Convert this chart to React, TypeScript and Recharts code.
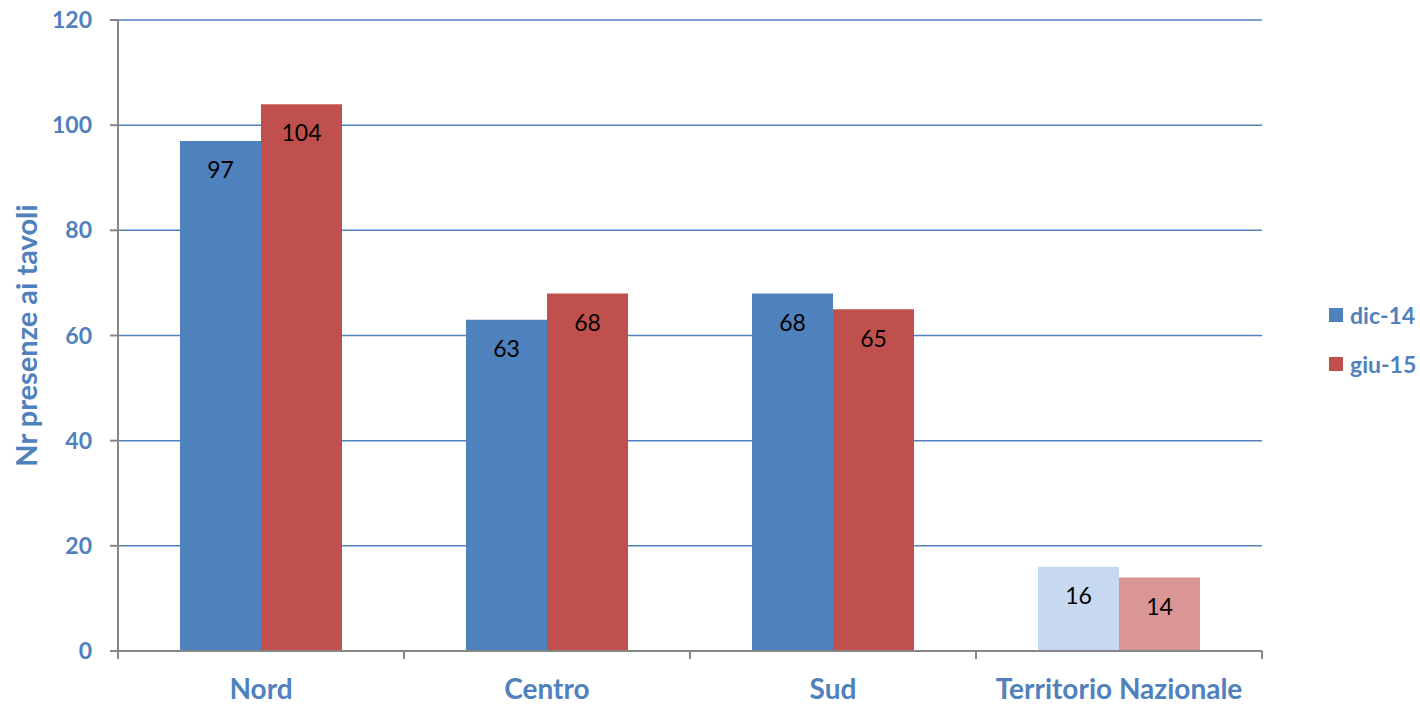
import React from 'react';
import { BarChart, Bar, XAxis, YAxis, CartesianGrid, Cell, LabelList } from 'recharts';

const regions = ['Nord', 'Centro', 'Sud', 'Territorio Nazionale'];
const dic14 = [97, 63, 68, 16];
const giu15 = [104, 68, 65, 14];
const yTicks = [0, 20, 40, 60, 80, 100, 120];

const BLUE = '#4f81bd';
const RED = '#c0504d';
const BLUE_LIGHT = '#c6d9f1';
const RED_LIGHT = '#d99694';
const AXIS = '#868686';
const FONT = 'Lato, "Open Sans", sans-serif';

const W = 1420;
const H = 706;
const LEFT = 118;
const RIGHT = 158;
const TOP = 20;
const BOTTOM = 55;
const BAND = (W - LEFT - RIGHT) / regions.length;

const data = regions.map((name, i) => ({ name, dic: dic14[i], giu: giu15[i] }));

const legendItems = [
  { label: 'dic-14', color: BLUE },
  { label: 'giu-15', color: RED },
];

// category label plus the boundary tick marks on either side of the band
const CategoryTick = (props: any) => {
  const { x, y, payload, index } = props;
  const left = x - BAND / 2;
  return (
    <g>
      <line x1={left} y1={y - 8} x2={left} y2={y} stroke={AXIS} strokeWidth={2} />
      {index === regions.length - 1 && (
        <line x1={left + BAND} y1={y - 8} x2={left + BAND} y2={y} stroke={AXIS} strokeWidth={2} />
      )}
      <text x={x} y={y + 40} textAnchor="middle" fill={BLUE} fontFamily={FONT} fontWeight={700} fontSize={28}>
        {payload.value}
      </text>
    </g>
  );
};

export default function App() {
  return (
    <div style={{ position: 'absolute', left: 0, top: 0, width: W, height: H, background: '#fff' }}>
      <BarChart
        width={W}
        height={H}
        data={data}
        margin={{ top: TOP, right: RIGHT, bottom: 0, left: 0 }}
        barCategoryGap={62}
        barGap={0}
      >
        <CartesianGrid vertical={false} stroke={BLUE} strokeWidth={1.5} />
        <XAxis
          dataKey="name"
          height={BOTTOM}
          axisLine={{ stroke: AXIS, strokeWidth: 2 }}
          tickLine={false}
          tick={<CategoryTick />}
          interval={0}
        />
        <YAxis
          width={LEFT}
          domain={[0, 120]}
          ticks={yTicks}
          axisLine={{ stroke: AXIS, strokeWidth: 2 }}
          tickLine={{ stroke: AXIS, strokeWidth: 2 }}
          tickSize={8}
          tick={{ fill: BLUE, fontFamily: FONT, fontWeight: 700, fontSize: 23 }}
          tickMargin={18}
          label={{
            value: 'Nr presenze ai tavoli',
            angle: -90,
            position: 'insideLeft',
            offset: 27,
            style: { fill: BLUE, fontFamily: FONT, fontWeight: 700, fontSize: 29, textAnchor: 'middle' },
          }}
        />
        <Bar dataKey="dic" fill={BLUE} isAnimationActive={false}>
          {data.map((d, i) => (
            <Cell key={d.name} fill={i === regions.length - 1 ? BLUE_LIGHT : BLUE} />
          ))}
          <LabelList dataKey="dic" position="insideTop" offset={21} fill="#000" fontFamily={FONT} fontSize={23} />
        </Bar>
        <Bar dataKey="giu" fill={RED} isAnimationActive={false}>
          {data.map((d, i) => (
            <Cell key={d.name} fill={i === regions.length - 1 ? RED_LIGHT : RED} />
          ))}
          <LabelList dataKey="giu" position="insideTop" offset={21} fill="#000" fontFamily={FONT} fontSize={23} />
        </Bar>
      </BarChart>
      {legendItems.map((item, i) => (
        <div
          key={item.label}
          style={{
            position: 'absolute',
            left: 1329,
            top: 300 + i * 49,
            height: 30,
            display: 'flex',
            alignItems: 'center',
            fontFamily: FONT,
            fontWeight: 700,
            fontSize: 23,
            color: BLUE,
          }}
        >
          <span style={{ display: 'inline-block', width: 14, height: 14, background: item.color, marginRight: 7 }} />
          {item.label}
        </div>
      ))}
    </div>
  );
}
